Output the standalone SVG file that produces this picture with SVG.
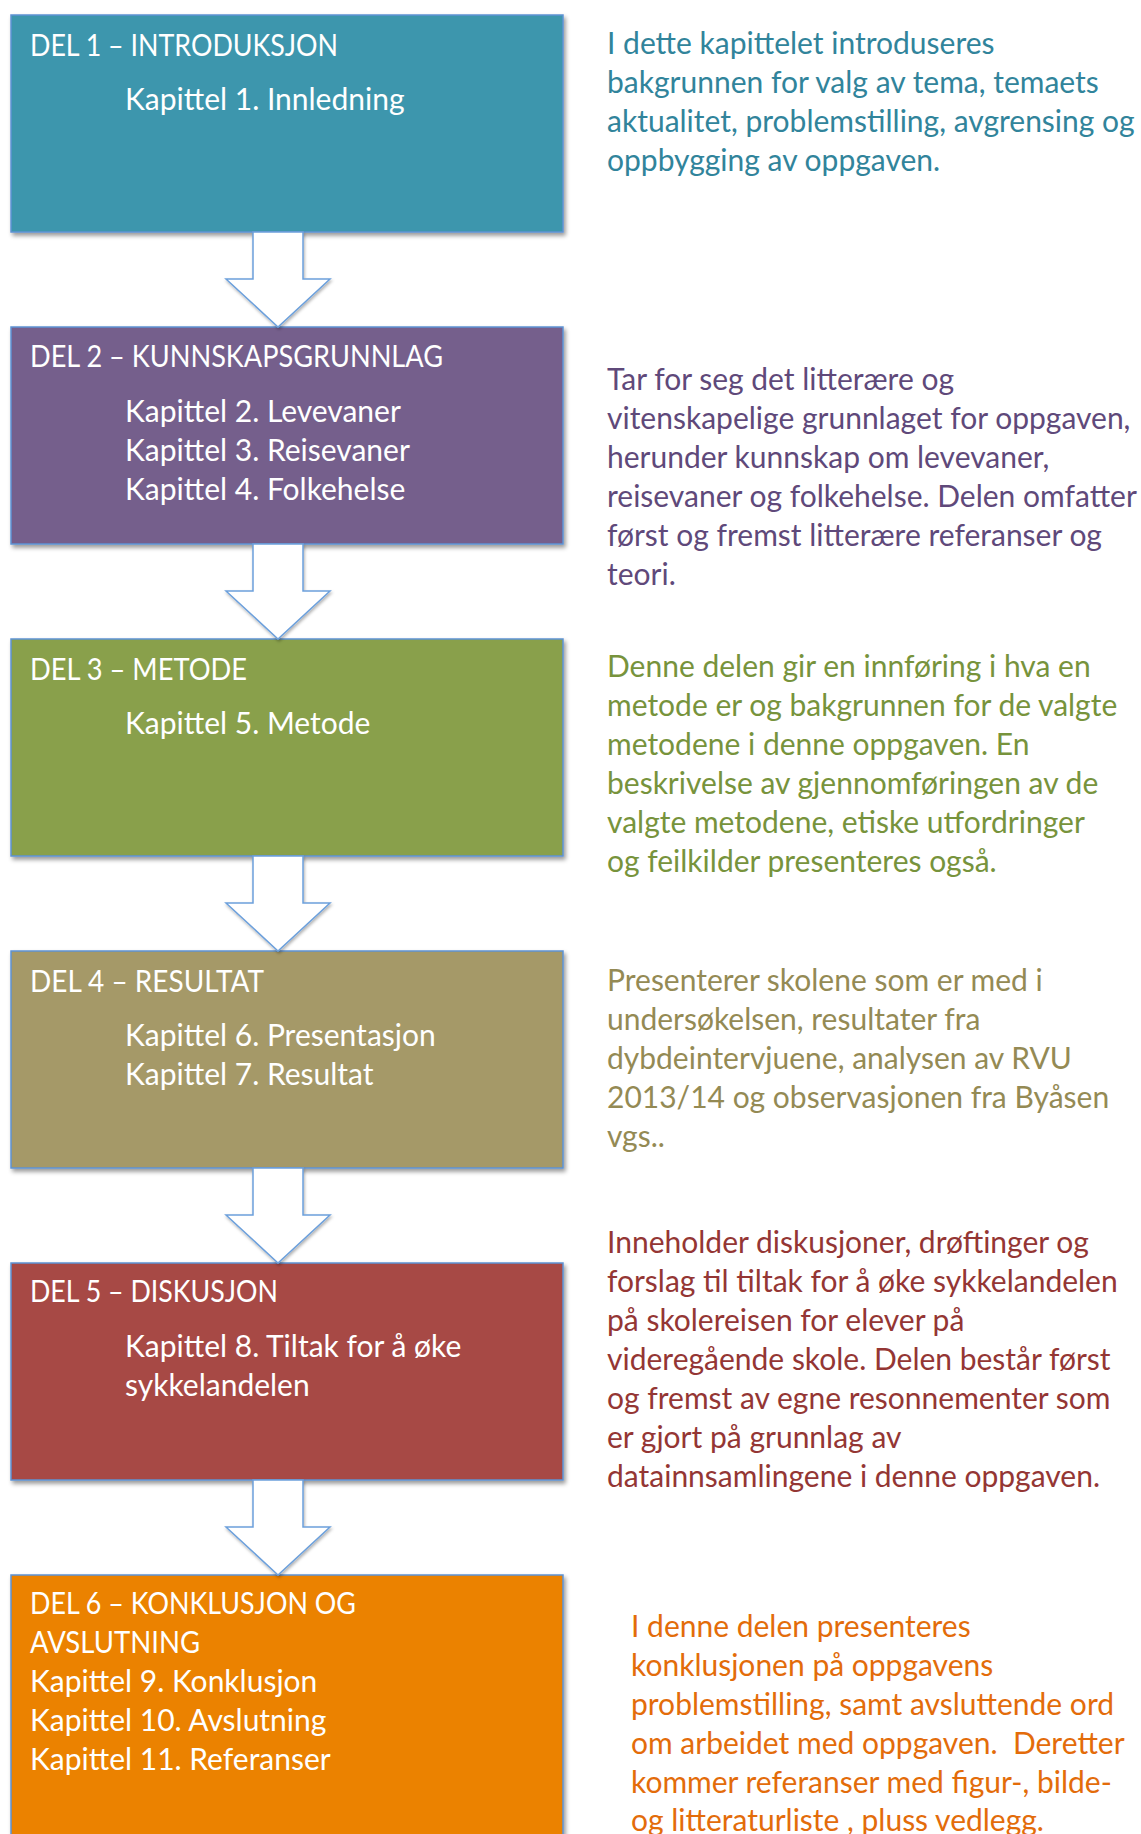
<svg xmlns="http://www.w3.org/2000/svg" width="1141" height="1834" viewBox="0 0 1141 1834">
<defs>
<filter id="sh" x="-5%" y="-5%" width="110%" height="115%">
<feDropShadow dx="2" dy="3" stdDeviation="2" flood-color="#000" flood-opacity="0.4"/>
</filter>
<filter id="sha" x="-20%" y="-20%" width="140%" height="140%">
<feDropShadow dx="1" dy="2" stdDeviation="1.5" flood-color="#000" flood-opacity="0.3"/>
</filter>
<style>
.box{stroke:#5E93D3;stroke-width:1.5;filter:url(#sh)}
.arrow{fill:#fff;stroke:#6CA0DC;stroke-width:1.5;stroke-linejoin:miter;filter:url(#sha)}
text{font-family:Lato,"Liberation Sans",sans-serif;font-size:30px}
.w{fill:#fff}
.d1{fill:#31849B}.d2{fill:#5F497A}.d3{fill:#77933C}.d4{fill:#948A54}.d5{fill:#943634}.d6{fill:#E36C0A}
</style>
</defs>
<rect width="1141" height="1834" fill="#fff"/>

<g id="part1">
<rect class="box" x="11" y="15" width="552" height="217" fill="#3D96AD"/>
<text class="w" x="30" y="56" textLength="308" lengthAdjust="spacingAndGlyphs">DEL 1 – INTRODUKSJON</text>
<text class="w" x="125" y="110">Kapittel 1. Innledning</text>
</g>
<g id="part2">
<rect class="box" x="11" y="327" width="552" height="217" fill="#745E8C"/>
<text class="w" x="30" y="367" textLength="413" lengthAdjust="spacingAndGlyphs">DEL 2 – KUNNSKAPSGRUNNLAG</text>
<text class="w" x="125" y="422">Kapittel 2. Levevaner</text>
<text class="w" x="125" y="461">Kapittel 3. Reisevaner</text>
<text class="w" x="125" y="500">Kapittel 4. Folkehelse</text>
</g>
<g id="part3">
<rect class="box" x="11" y="639" width="552" height="217" fill="#89A04C"/>
<text class="w" x="30" y="680" textLength="217" lengthAdjust="spacingAndGlyphs">DEL 3 – METODE</text>
<text class="w" x="125" y="734">Kapittel 5. Metode</text>
</g>
<g id="part4">
<rect class="box" x="11" y="951" width="552" height="217" fill="#A59967"/>
<text class="w" x="30" y="992" textLength="234" lengthAdjust="spacingAndGlyphs">DEL 4 – RESULTAT</text>
<text class="w" x="125" y="1046">Kapittel 6. Presentasjon</text>
<text class="w" x="125" y="1085">Kapittel 7. Resultat</text>
</g>
<g id="part5">
<rect class="box" x="11" y="1263" width="552" height="217" fill="#A74A45"/>
<text class="w" x="30" y="1302" textLength="248" lengthAdjust="spacingAndGlyphs">DEL 5 – DISKUSJON</text>
<text class="w" x="125" y="1357">Kapittel 8. Tiltak for å øke</text>
<text class="w" x="125" y="1396">sykkelandelen</text>
</g>
<g id="part6">
<rect class="box" x="11" y="1575" width="552" height="300" fill="#EB8205"/>
<text class="w" x="30" y="1614" textLength="326" lengthAdjust="spacingAndGlyphs">DEL 6 – KONKLUSJON OG</text>
<text class="w" x="30" y="1653" textLength="170" lengthAdjust="spacingAndGlyphs">AVSLUTNING</text>
<text class="w" x="30" y="1692">Kapittel 9. Konklusjon</text>
<text class="w" x="30" y="1731">Kapittel 10. Avslutning</text>
<text class="w" x="30" y="1770">Kapittel 11. Referanser</text>
</g>

<g id="connectors">
<polygon class="arrow" points="253,232 303,232 303,279 330,279 278,327 226,279 253,279"/>
<polygon class="arrow" points="253,544 303,544 303,591 330,591 278,639 226,591 253,591"/>
<polygon class="arrow" points="253,856 303,856 303,903 330,903 278,951 226,903 253,903"/>
<polygon class="arrow" points="253,1168 303,1168 303,1215 330,1215 278,1263 226,1215 253,1215"/>
<polygon class="arrow" points="253,1480 303,1480 303,1527 330,1527 278,1575 226,1527 253,1527"/>
</g>

<g id="desc1">
<text class="d1" x="607" y="54">I dette kapittelet introduseres</text>
<text class="d1" x="607" y="93">bakgrunnen for valg av tema, temaets</text>
<text class="d1" x="607" y="132">aktualitet, problemstilling, avgrensing og</text>
<text class="d1" x="607" y="171">oppbygging av oppgaven.</text>
</g>
<g id="desc2">
<text class="d2" x="607" y="390">Tar for seg det litterære og</text>
<text class="d2" x="607" y="429">vitenskapelige grunnlaget for oppgaven,</text>
<text class="d2" x="607" y="468">herunder kunnskap om levevaner,</text>
<text class="d2" x="607" y="507">reisevaner og folkehelse. Delen omfatter</text>
<text class="d2" x="607" y="546">først og fremst litterære referanser og</text>
<text class="d2" x="607" y="585">teori.</text>
</g>
<g id="desc3">
<text class="d3" x="607" y="677">Denne delen gir en innføring i hva en</text>
<text class="d3" x="607" y="716">metode er og bakgrunnen for de valgte</text>
<text class="d3" x="607" y="755">metodene i denne oppgaven. En</text>
<text class="d3" x="607" y="794">beskrivelse av gjennomføringen av de</text>
<text class="d3" x="607" y="833">valgte metodene, etiske utfordringer</text>
<text class="d3" x="607" y="872">og feilkilder presenteres også.</text>
</g>
<g id="desc4">
<text class="d4" x="607" y="991">Presenterer skolene som er med i</text>
<text class="d4" x="607" y="1030">undersøkelsen, resultater fra</text>
<text class="d4" x="607" y="1069">dybdeintervjuene, analysen av RVU</text>
<text class="d4" x="607" y="1108">2013/14 og observasjonen fra Byåsen</text>
<text class="d4" x="607" y="1147">vgs..</text>
</g>
<g id="desc5">
<text class="d5" x="607" y="1253">Inneholder diskusjoner, drøftinger og</text>
<text class="d5" x="607" y="1292">forslag til tiltak for å øke sykkelandelen</text>
<text class="d5" x="607" y="1331">på skolereisen for elever på</text>
<text class="d5" x="607" y="1370">videregående skole. Delen består først</text>
<text class="d5" x="607" y="1409">og fremst av egne resonnementer som</text>
<text class="d5" x="607" y="1448">er gjort på grunnlag av</text>
<text class="d5" x="607" y="1487">datainnsamlingene i denne oppgaven.</text>
</g>
<g id="desc6">
<text class="d6" x="631" y="1637">I denne delen presenteres</text>
<text class="d6" x="631" y="1676">konklusjonen på oppgavens</text>
<text class="d6" x="631" y="1715">problemstilling, samt avsluttende ord</text>
<text class="d6" x="631" y="1754">om arbeidet med oppgaven.&#160; Deretter</text>
<text class="d6" x="631" y="1793">kommer referanser med figur-, bilde-</text>
<text class="d6" x="631" y="1831">og litteraturliste , pluss vedlegg.</text>
</g>
</svg>
